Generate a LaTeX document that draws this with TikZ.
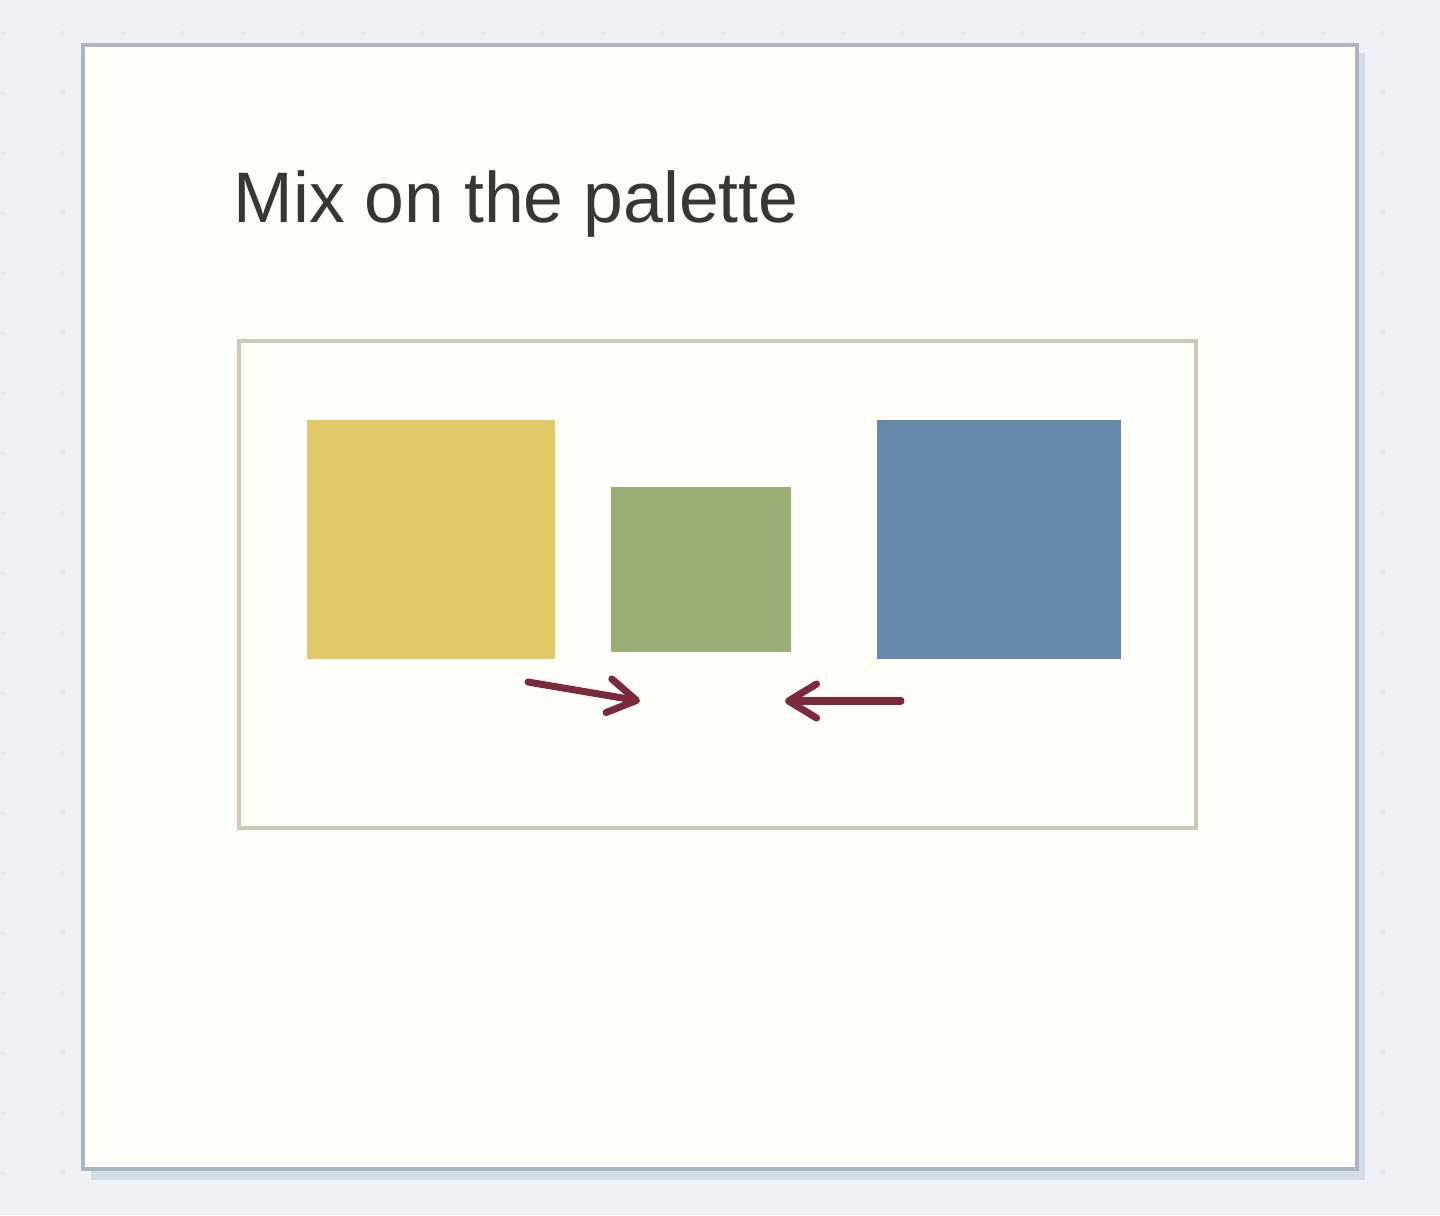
\documentclass[tikz,border=0pt]{standalone}
\usepackage{fontspec}
\setmainfont{Liberation Sans}
\usetikzlibrary{arrows.meta, positioning}
\definecolor{pagebg}{HTML}{EDF0F5}
\definecolor{griddot}{HTML}{E4E8EE}
\definecolor{cardfill}{HTML}{FFFEF8}
\definecolor{cardline}{HTML}{A8B5C2}
\definecolor{cardshadow}{HTML}{D3DBE3}
\definecolor{paletteline}{HTML}{D3C6B6}
\definecolor{paintyellow}{HTML}{E1C96A}
\definecolor{paintgreen}{HTML}{99AD74}
\definecolor{paintblue}{HTML}{6689AB}
\definecolor{mixarrow}{HTML}{7A2A3A}
\definecolor{titleink}{HTML}{3A3632}
\tikzset{
	swatch/.style={draw=none, inner sep=0pt, anchor=north west},
	mixline/.style={draw=mixarrow, line width=2pt, line cap=round,
		-{Straight Barb[length=0.28cm, width=0.34cm, line cap=round, round]}},
	baseline}

\begin{document}
\begin{tikzpicture}[x=0.01cm, y=-0.01cm]
		
		\fill[pagebg] (0,0) rectangle (1440,1215);
		\useasboundingbox (0,0) rectangle (1440,1215);
		\foreach \i in {0,...,23}
			\foreach \j in {0,...,20}
				\fill[griddot] (3+60*\i,33+60*\j) circle (2.5);
		
		\fill[cardshadow] (91,53) rectangle (1365,1180);
		\draw[cardline, fill=cardfill, line width=0.9pt] (83,45) rectangle (1357,1169);
		
		\node[anchor=base west, inner sep=0pt, text=titleink, font=\fontsize{20.35}{24}\selectfont] (title) at (233,222) {Mix on the palette};
		
		\draw[paletteline, line width=1.2pt] (239,341) rectangle (1196,828);
		\node[swatch, fill=paintyellow, minimum width=2.48cm, minimum height=2.39cm] (yellow) at (306.5,419.5) {};
		\node[swatch, fill=paintgreen, minimum width=1.80cm, minimum height=1.65cm] (green) at (610.5,486.5) {};
		\node[swatch, fill=paintblue, minimum width=2.44cm, minimum height=2.39cm] (blue) at (876.5,419.5) {};
		
		\coordinate (y0) at (528,682);
		\coordinate (y1) at (640,701);
		\coordinate (b0) at (901,701);
		\coordinate (b1) at (785,701);
		
		\draw[mixline] (y0) -- (y1);
		\draw[mixline] (b0) -- (b1);
		
	\end{tikzpicture}
\end{document}
